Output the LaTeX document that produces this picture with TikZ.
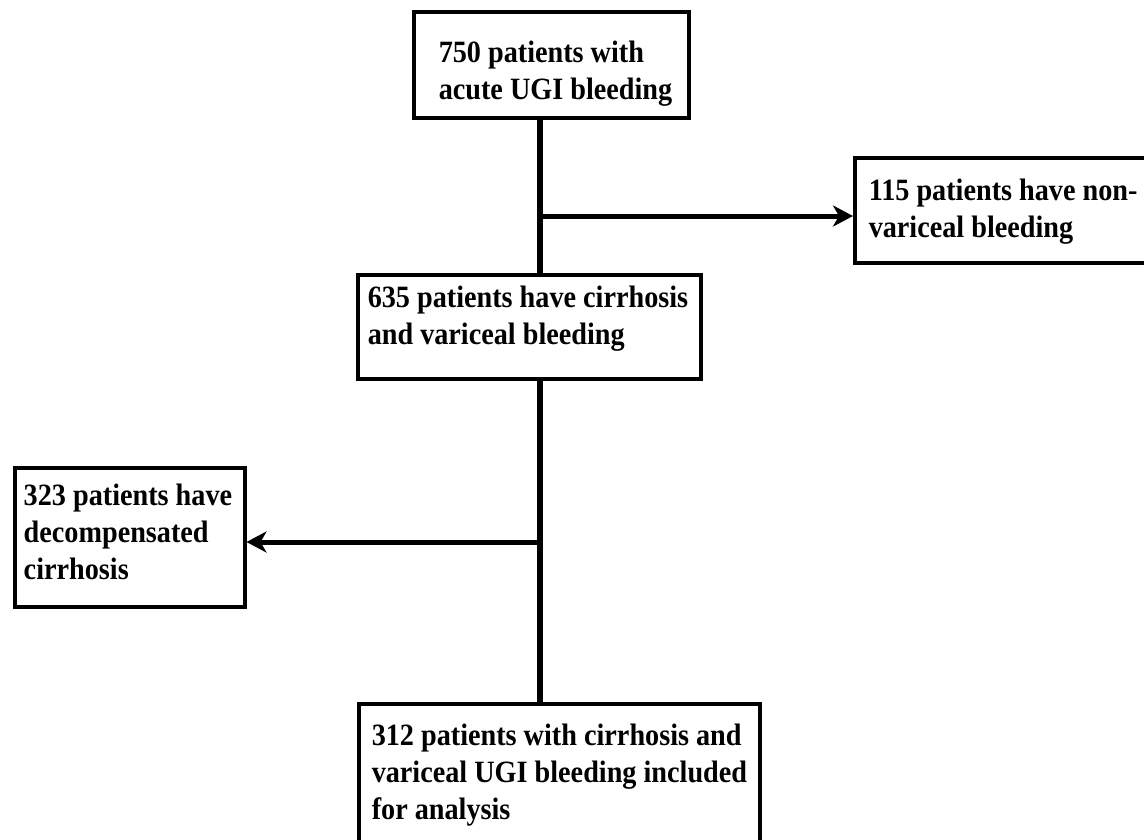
\documentclass[tikz,border=0pt]{standalone}
\usepackage{fontspec}
\setmainfont[FakeStretch=0.91]{Liberation Serif}
\usetikzlibrary{positioning,arrows.meta}
\tikzset{
  % --- boxes of the flow chart: anchored at the first baseline ---
  flowbox/.style={draw=black, line width=3.5pt, rectangle, align=flush left,
                  font=\bfseries\fontsize{31}{37}\selectfont,
                  inner sep=0pt, anchor=base west},
  pad/.style={execute at begin node={\leftskip=#1\relax}},
  % --- trunk and side branches ---
  trunk/.style={line width=6.5pt, draw=black},
  branch/.style={line width=5pt, draw=black,
                 -{Stealth[length=20pt,width=21pt,inset=6pt]}},
}
\begin{document}
\begin{tikzpicture}[x=1pt,y=-1pt]
  \useasboundingbox (0,0) rectangle (1144,839);
  % boxes (left edge, first baseline)
  \node[flowbox, pad=25pt, text width=275pt, text height=50pt, text depth=56pt]
       (all)  at (412,62)  {750 patients with\\acute UGI bleeding};
  \node[flowbox, pad=14pt, text width=310pt, text height=42pt, text depth=63pt]
       (nonv) at (853,200) {115 patients have non-\\variceal bleeding};
  \node[flowbox, pad=10pt, text width=343pt, text height=32pt, text depth=72pt]
       (cirr) at (356,307) {635 patients have cirrhosis\\and variceal bleeding};
  \node[flowbox, pad=9pt, text width=230pt, text height=37pt, text depth=102pt]
       (dec)  at (13,505)  {323 patients have\\decompensated\\cirrhosis};
  \node[flowbox, pad=13pt, text width=401pt, text height=41pt, text depth=120pt]
       (incl) at (357,745) {312 patients with cirrhosis and\\variceal UGI bleeding included\\for analysis};

  % junctions on the trunk
  \coordinate (j1) at (540,216);
  \coordinate (j2) at (540,542);

  % trunk segments
  \draw[trunk] (all.south -| j1) -- (cirr.north -| j1);
  \draw[trunk] (cirr.south -| j2) -- (incl.north -| j2);

  % exclusions
  \draw[branch] (j1) -- (nonv.west |- j1);
  \draw[branch] (j2) -- (dec.east |- j2);
\end{tikzpicture}
\end{document}
